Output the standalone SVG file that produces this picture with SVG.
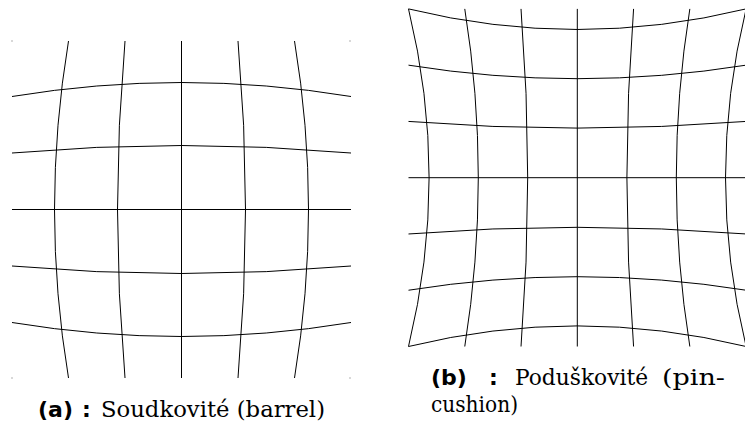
<svg xmlns="http://www.w3.org/2000/svg" width="745" height="425" viewBox="0 0 745 425">
<style>
.g{fill:none;stroke:#000;stroke-width:1}
.lab{font-family:'DejaVu Sans',sans-serif;font-weight:bold;font-size:22px;fill:#000}
.cap{font-family:'DejaVu Serif',serif;font-size:22px;fill:#000}
.dot{fill:#666}
</style>
<rect width="745" height="425" fill="#fff"/>
<g id="barrel">
<g class="g">
<path d="M68.5,41 Q40.5,209.5 68.5,378"/>
<path d="M125,41 Q110,209.5 125,378"/>
<path d="M181.5,41 V378"/>
<path d="M238,41 Q253,209.5 238,378"/>
<path d="M294.5,41 Q322.5,209.5 294.5,378"/>
<path d="M12,96.5 Q181.5,68.5 351,96.5"/>
<path d="M12,153 Q181.5,138 351,153"/>
<path d="M12,209.5 H351"/>
<path d="M12,266 Q181.5,281 351,266"/>
<path d="M12,322.5 Q181.5,350.5 351,322.5"/>
</g>
<rect class="dot" x="11.5" y="40.5" width="1" height="1"/>
<rect class="dot" x="349.5" y="40.5" width="1" height="1"/>
<rect class="dot" x="11.5" y="377.5" width="1" height="1"/>
<rect class="dot" x="349.5" y="377.5" width="1" height="1"/>
</g>
<g id="pincushion">
<g class="g">
<path d="M408.5,8.9 Q449.7,177.7 408.5,346.5"/>
<path d="M464.77,8.9 Q491.83,177.7 464.77,346.5"/>
<path d="M521.03,8.9 Q534.37,177.7 521.03,346.5"/>
<path d="M577.3,8.9 V346.5"/>
<path d="M633.57,8.9 Q620.23,177.7 633.57,346.5"/>
<path d="M689.83,8.9 Q662.77,177.7 689.83,346.5"/>
<path d="M746.1,8.9 Q704.9,177.7 746.1,346.5"/>
<path d="M408.5,8.9 Q577.3,50.1 746.1,8.9"/>
<path d="M408.5,65.17 Q577.3,92.23 746.1,65.17"/>
<path d="M408.5,121.43 Q577.3,134.77 746.1,121.43"/>
<path d="M408.5,177.7 H746.1"/>
<path d="M408.5,233.97 Q577.3,220.63 746.1,233.97"/>
<path d="M408.5,290.23 Q577.3,263.17 746.1,290.23"/>
<path d="M408.5,346.5 Q577.3,305.3 746.1,346.5"/>
</g>
</g>
<g id="caption-a">
<text class="lab" x="38" y="417">(a)</text>
<text class="lab" x="82" y="417">:</text>
<text class="cap" x="101" y="417" textLength="224" lengthAdjust="spacingAndGlyphs">Soudkovité (barrel)</text>
</g>
<g id="caption-b">
<text class="lab" x="431" y="385">(b)</text>
<text class="lab" x="489" y="385">:</text>
<text class="cap" x="515" y="385" textLength="133" lengthAdjust="spacingAndGlyphs">Poduškovité</text>
<text class="cap" x="662" y="385" textLength="63" lengthAdjust="spacingAndGlyphs">(pin-</text>
<text class="cap" x="431" y="412" textLength="87" lengthAdjust="spacingAndGlyphs">cushion)</text>
</g>
</svg>
